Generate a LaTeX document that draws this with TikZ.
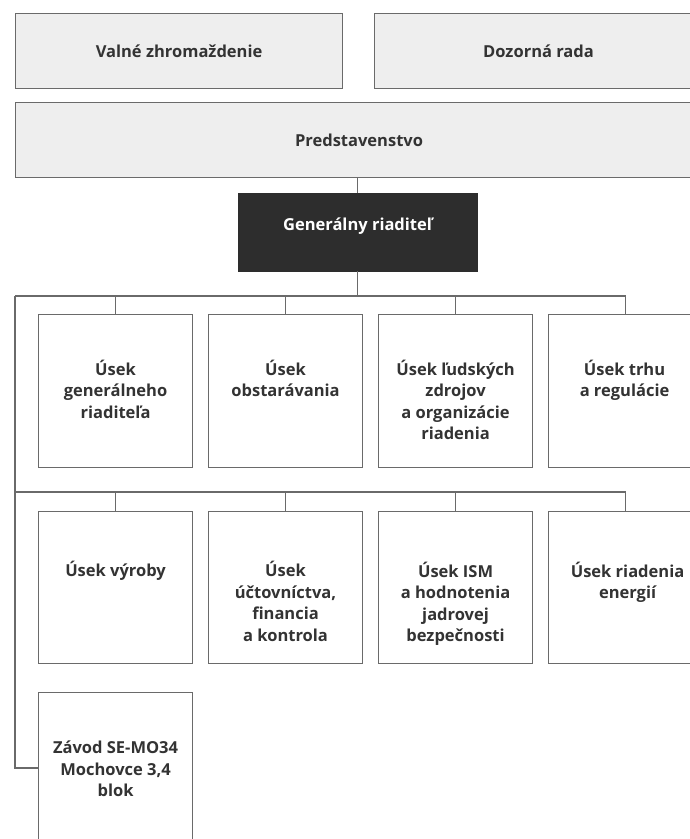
\documentclass[tikz,border=0pt]{standalone}
\usepackage{fontspec}
\setmainfont{Open Sans}
\usetikzlibrary{calc}
\definecolor{linegray}{HTML}{6A6A6A}
\definecolor{textgray}{HTML}{333333}
\definecolor{topfill}{HTML}{EEEEEE}
\definecolor{gdfill}{HTML}{2D2D2D}
\begin{document}
\begin{tikzpicture}[x=1pt,y=-1pt,
  conn/.style={draw=linegray, line width=1.1pt},
  topbox/.style={draw=linegray, line width=1.1pt, fill=topfill, anchor=north west, inner sep=0pt},
  unitbox/.style={draw=linegray, line width=1.1pt, fill=white, anchor=north west, minimum width=154pt, minimum height=153pt, inner sep=0pt},
  lbl/.style={font=\bfseries\fontsize{16.5}{21.5}\selectfont, text=textgray, align=center, anchor=north, inner sep=0pt},
  toplbl/.style={font=\bfseries\fontsize{16.5}{21.5}\selectfont, text=textgray, align=center, inner sep=0pt}]
\useasboundingbox (0,0) rectangle (690,839);
\clip (0,0) rectangle (690,839);
% top boxes
\node[topbox, minimum width=327pt, minimum height=75pt] (vz) at (15,13) {};
\node[topbox, minimum width=328pt, minimum height=75pt] (dr) at (374,13) {};
\node[topbox, minimum width=687pt, minimum height=75pt] (pr) at (15,102) {};
\node[toplbl] (vzt) at (vz.center) {Valné zhromaždenie};
\node[toplbl] (drt) at (dr.center) {Dozorná rada};
\node[toplbl] (prt) at (pr.center) {Predstavenstvo};
% general director
\node[draw=gdfill, fill=gdfill, anchor=north west, minimum width=239pt, minimum height=78pt, inner sep=0pt] (gr) at (238,193) {};
\node[toplbl, text=white, anchor=base] (grt) at (357.5,230) {Generálny riaditeľ};
% row 1
\node[unitbox] (a1) at (38,314) {};
\node[unitbox] (a2) at (208,314) {};
\node[unitbox] (a3) at (378,314) {};
\node[unitbox] (a4) at (548,314) {};
% row 2
\node[unitbox, minimum height=152pt] (b1) at (38,511) {};
\node[unitbox, minimum height=152pt] (b2) at (208,511) {};
\node[unitbox, minimum height=152pt] (b3) at (378,511) {};
\node[unitbox, minimum height=152pt] (b4) at (548,511) {};
% row 3
\node[unitbox, minimum height=170pt] (c1) at (38,692) {};
% labels
\node[lbl] (a1t) at ($(a1.north)+(0,45.5)$) {Úsek\\generálneho\\riaditeľa};
\node[lbl] (a2t) at ($(a2.north)+(0,45.5)$) {Úsek\\obstarávania};
\node[lbl] (a3t) at ($(a3.north)+(0,45.5)$) {Úsek ľudských\\zdrojov\\a organizácie\\riadenia};
\node[lbl] (a4t) at ($(a4.north)+(-1,45.5)$) {Úsek trhu\\a regulácie};
\node[lbl] (b1t) at ($(b1.north)+(0,50)$) {Úsek výroby};
\node[lbl] (b2t) at ($(b2.north)+(0,50)$) {Úsek\\účtovníctva,\\financia\\a kontrola};
\node[lbl] (b3t) at ($(b3.north)+(0,50.5)$) {Úsek ISM\\a hodnotenia\\jadrovej\\bezpečnosti};
\node[lbl] (b4t) at ($(b4.north)+(2,50.5)$) {Úsek riadenia\\energií};
\node[lbl] (c1t) at ($(c1.north)+(0,49)$) {Závod SE-MO34\\Mochovce 3,4\\blok};
% connectors
\coordinate (bus1L) at (15,296);
\coordinate (bus1R) at (a4.north |- bus1L);
\coordinate (bus2L) at (15,492);
\coordinate (bus2R) at (b4.north |- bus2L);
\coordinate (trunkEnd) at (15,768);
\draw[conn] (gr.north) -- (gr.north |- pr.south);
\draw[conn] (gr.south) -- (gr.south |- bus1L);
\draw[conn] (bus1L) -- (bus1R);
\draw[conn] (bus2L) -- (bus2R);
\draw[conn] (bus1L) -- (trunkEnd) -- (trunkEnd -| c1.west);
\foreach \n in {a1,a2,a3,a4} \draw[conn] (\n.north) -- (\n.north |- bus1L);
\foreach \n in {b1,b2,b3,b4} \draw[conn] (\n.north) -- (\n.north |- bus2L);
\end{tikzpicture}
\end{document}
